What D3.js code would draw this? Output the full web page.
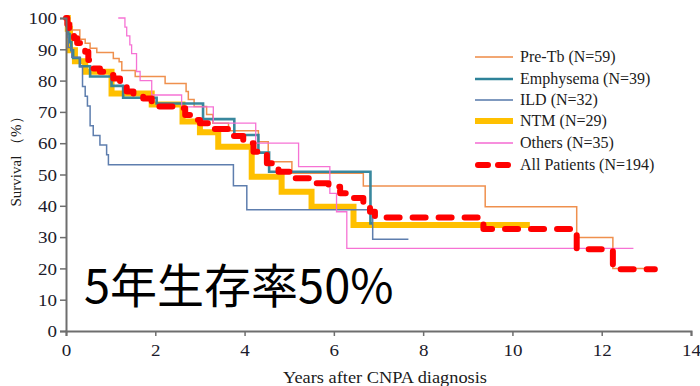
<!DOCTYPE html>
<html><head><meta charset="utf-8">
<script src="https://cdn.jsdelivr.net/npm/d3@7"></script>
<style>body{margin:0;background:#fff;}svg{display:block;}</style>
</head><body>
<svg id="chart" width="700" height="386"></svg>
<script>
// ---- data ----
const xTicks = [0, 2, 4, 6, 8, 10, 12, 14];
const yTicks = [0, 10, 20, 30, 40, 50, 60, 70, 80, 90, 100];
const seriesNames = ["Pre-Tb (N=59)", "Emphysema (N=39)", "ILD (N=32)", "NTM (N=29)", "Others (N=35)", "All Patients (N=194)"];

const preTbTimes = [0,0.05,0.13,0.31,0.43,0.54,0.69,1.06,1.19,1.25,1.55,2.22,2.69,2.74,2.87,3.15,3.29,3.64,4.31,4.53,5.06,6.66,9.39,11.44,12.25,13.2];
const preTbSurv  = [100,98.3,96.2,93.2,91.9,90.3,89.0,87.1,86.0,83.2,81.3,79.1,76.5,74.0,71.7,69.2,66.4,64.0,60.5,54.1,50.4,46.3,39.7,29.9,20.0,20.0];

const emphTimes = [0,0.02,0.05,0.08,0.12,0.16,0.31,0.54,1.02,1.28,2.03,3.07,3.77,4.31,4.55,6.82,6.86];
const emphSurv  = [100,97.4,94.9,92.3,89.7,87.2,84.6,81.3,78.3,74.5,72.7,67.7,62.6,57.0,50.9,34.4,34.4];

const ildTimes = [0,0.02,0.04,0.05,0.13,0.31,0.37,0.43,0.48,0.54,0.61,0.76,0.91,0.95,3.75,4.05,6.87,7.67];
const ildSurv  = [100,96.9,93.8,90.6,87.5,84.4,78.1,75.0,71.9,65.6,62.5,59.4,56.3,53.1,46.4,38.7,29.3,29.3];

const ntmTimes = [0,0.04,0.09,0.2,0.43,1.02,1.92,2.61,3.0,3.41,4.16,4.83,5.5,6.44,10.39];
const ntmSurv  = [100,96.6,89.7,86.2,82.8,75.9,72.4,66.9,63.5,58.9,49.3,44.5,39.7,33.9,33.9];

const othersTimes = [1.17,1.32,1.36,1.43,1.47,1.58,1.66,1.92,2.59,3.3,4.25,5.21,5.91,6.06,6.29,12.71];
const othersSurv  = [100,97.1,94.3,91.4,88.6,82.9,80.0,75.4,71.6,66.4,60.0,52.5,44.0,38.1,26.4,26.4];

const allTimes = [0,0.03,0.07,0.12,0.18,0.25,0.35,0.43,0.5,0.57,0.76,0.95,1.06,1.21,1.36,1.51,1.73,1.92,2.03,2.59,2.67,2.78,3.0,3.3,3.67,3.97,4.2,4.5,4.76,5.09,5.47,5.88,6.14,6.44,6.66,6.81,6.92,9.35,11.44,12.25,13.19];
const allSurv  = [100,98,96.5,95,93.5,92,90.8,89.2,86.6,83.9,82.8,81.8,80.7,78.0,76.5,75.4,74.3,73.3,71.7,71.2,69.0,67.4,66.4,64.5,62.3,60.0,57.3,53.6,50.9,48.8,47.2,46.1,44.0,42.5,40.8,38.1,36.3,32.6,26.1,19.7,19.7];

const annotation = "5年生存率50%";

// ---- styles ----
const styles = [
  {color:"#EE8A45", width:1.5, dash:null, opacity:0.95},
  {color:"#2E8299", width:2.6, dash:null, opacity:0.95},
  {color:"#5577AA", width:1.5, dash:null, opacity:0.95},
  {color:"#FFC000", width:6, dash:null, opacity:1},
  {color:"#F56AD2", width:1.3, dash:null, opacity:0.95},
  {color:"#FF0000", width:6, dash:"13,13", opacity:1}
];
const seriesData = [
  d3.zip(preTbTimes, preTbSurv),
  d3.zip(emphTimes, emphSurv),
  d3.zip(ildTimes, ildSurv),
  d3.zip(ntmTimes, ntmSurv),
  d3.zip(othersTimes, othersSurv),
  d3.zip(allTimes, allSurv)
];
const drawOrder = [3, 0, 1, 2, 4, 5];

const svg = d3.select("#chart");
const x = d3.scaleLinear().domain([0, 14]).range([66, 691]);
const y = d3.scaleLinear().domain([0, 100]).range([331, 18]);

const serif = "'Liberation Serif','Times New Roman',serif";

// curves
const line = d3.line().x(d => x(d[0])).y(d => y(d[1])).curve(d3.curveStepAfter);
drawOrder.forEach(i => {
  const s = styles[i];
  svg.append("path")
    .attr("d", line(seriesData[i]))
    .attr("fill", "none")
    .attr("stroke", s.color)
    .attr("stroke-width", s.width)
    .attr("stroke-opacity", s.opacity)
    .attr("stroke-linecap", s.dash ? "round" : "butt")
    .attr("stroke-linejoin", s.dash ? "round" : "miter")
    .attr("stroke-dasharray", s.dash);
});

// axes
const yAxis = svg.append("g").attr("transform", "translate(66,0)")
  .call(d3.axisLeft(y).tickValues(yTicks).tickSize(6).tickPadding(2));
const xAxis = svg.append("g").attr("transform", "translate(0,331)")
  .call(d3.axisBottom(x).tickValues(xTicks).tickSize(5).tickPadding(8));
[yAxis, xAxis].forEach(g => {
  g.select(".domain").attr("stroke", "#6e6e6e").attr("stroke-width", 2);
  g.selectAll(".tick line").attr("stroke", "#6e6e6e").attr("stroke-width", 1.5);
  g.selectAll(".tick text").attr("font-family", serif).attr("font-size", 17)
    .attr("fill", "#1b1b2b").attr("transform", "scale(1.12,1)");
});
yAxis.selectAll(".tick text").attr("dy", "0.34em");

// axis titles
svg.append("text")
  .attr("x", 385).attr("y", 383)
  .attr("text-anchor", "middle")
  .attr("font-family", serif).attr("font-size", 17).attr("fill", "#1b1b1b")
  .attr("textLength", 204).attr("lengthAdjust", "spacingAndGlyphs")
  .text("Years after CNPA diagnosis");
svg.append("text")
  .attr("transform", "translate(21,158) rotate(-90)")
  .attr("text-anchor", "middle")
  .attr("font-family", serif).attr("font-size", 15).attr("fill", "#1b1b1b")
  .text("Survival （%）");

// legend
const legY = [57, 79, 100, 121, 143, 165];
seriesNames.forEach((name, i) => {
  const s = styles[i];
  svg.append("line")
    .attr("x1", i === 5 ? 478 : 475).attr("x2", i === 5 ? 510 : 513)
    .attr("y1", legY[i]).attr("y2", legY[i])
    .attr("stroke", s.color)
    .attr("stroke-width", s.width)
    .attr("stroke-linecap", s.dash ? "round" : "butt")
    .attr("stroke-dasharray", s.dash ? "10,10" : null);
  svg.append("text")
    .attr("x", 520).attr("y", legY[i] + 5)
    .attr("font-family", serif).attr("font-size", 16).attr("fill", "#1b1b1b")
    .text(name);
});

// annotation
svg.append("text")
  .attr("x", 84).attr("y", 303)
  .attr("font-family", "'Noto Sans CJK JP','Noto Sans',sans-serif")
  .attr("font-size", 47).attr("fill", "#000")
  .text(annotation);
</script>
</body></html>
